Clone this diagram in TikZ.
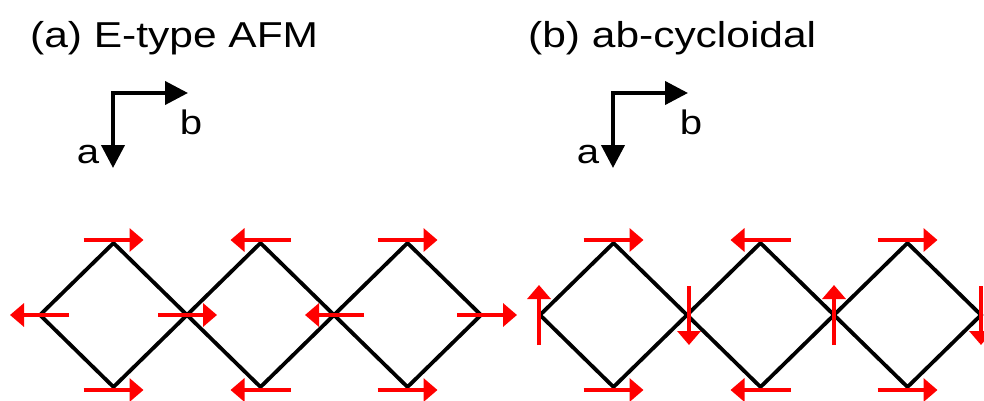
\documentclass[tikz,border=0pt]{standalone}
\usepackage{fontspec}
\setmainfont{Liberation Sans}
\newfontfamily\wfont[FakeStretch=1.18]{Liberation Sans}
\usetikzlibrary{arrows.meta,calc}
\begin{document}
\begin{tikzpicture}[x=1pt,y=-1pt,
  lat/.style={line width=3.8pt, black, line join=miter},
  spin/.style={line width=3.8pt, red, -{Triangle[length=14pt,width=23pt]}},
  axis/.style={line width=4pt, black, line join=miter, {Triangle[length=23pt,width=23pt]}-{Triangle[length=23pt,width=23pt]}},
  ttl/.style={font=\wfont\fontsize{36}{40}\selectfont, anchor=base west, inner sep=0pt},
  lbl/.style={font=\wfont\fontsize{34}{38}\selectfont, inner sep=0pt}]
\useasboundingbox (0,0) rectangle (984,401);
\node[ttl] (ta) at (30,48) {(a) E-type AFM};
\node[ttl] (tb) at (528,48) {(b) ab-cycloidal};
\foreach \ox/\p in {0/a,500/b}{
  % axes
  \coordinate (\p-c) at (\ox+113,93);
  \coordinate (\p-xb) at (\ox+188,93);
  \coordinate (\p-xa) at (\ox+113,168);
  \draw[axis] (\p-xa) -- (\p-c) -- (\p-xb);
  \node[lbl] (\p-lb) at (\ox+191,122) {b};
  \node[lbl] (\p-la) at (\ox+88,155) {a};
  % lattice vertices
  \foreach \i in {0,1,2,3}{
    \coordinate (\p-L\i) at (\ox+40+147*\i,315);
  }
  \foreach \i in {0,1,2}{
    \coordinate (\p-T\i) at (\ox+113.5+147*\i,243);
    \coordinate (\p-B\i) at (\ox+113.5+147*\i,387);
  }
  \draw[lat] (\p-L0) -- (\p-T0) -- (\p-L1) -- (\p-T1) -- (\p-L2) -- (\p-T2) -- (\p-L3)
    -- (\p-B2) -- (\p-L2) -- (\p-B1) -- (\p-L1) -- (\p-B0) -- cycle;
  % top and bottom spins (same in both panels)
  \draw[spin] ($(\p-T0)+(-30,-3)$) -- ($(\p-T0)+(30,-3)$);
  \draw[spin] ($(\p-T1)+(30,-3)$) -- ($(\p-T1)+(-30,-3)$);
  \draw[spin] ($(\p-T2)+(-30,-3)$) -- ($(\p-T2)+(30,-3)$);
  \draw[spin] ($(\p-B0)+(-30,3)$) -- ($(\p-B0)+(30,3)$);
  \draw[spin] ($(\p-B1)+(30,3)$) -- ($(\p-B1)+(-30,3)$);
  \draw[spin] ($(\p-B2)+(-30,3)$) -- ($(\p-B2)+(30,3)$);
}
% panel (a) side spins
\draw[spin] ($(a-L0)+(29,0)$) -- ($(a-L0)+(-30,0)$);
\draw[spin] ($(a-L1)+(-29,0)$) -- ($(a-L1)+(30,0)$);
\draw[spin] ($(a-L2)+(30,0)$) -- ($(a-L2)+(-29,0)$);
\draw[spin] ($(a-L3)+(-24,0)$) -- ($(a-L3)+(36,0)$);
% panel (b) side spins
\draw[spin] ($(b-L0)+(-1,30)$) -- ($(b-L0)+(-1,-30)$);
\draw[spin] ($(b-L1)+(2,-29)$) -- ($(b-L1)+(2,30)$);
\draw[spin] ($(b-L2)+(0,30)$) -- ($(b-L2)+(0,-30)$);
\draw[spin] ($(b-L3)+(0,-29)$) -- ($(b-L3)+(0,30)$);
\end{tikzpicture}
\end{document}
